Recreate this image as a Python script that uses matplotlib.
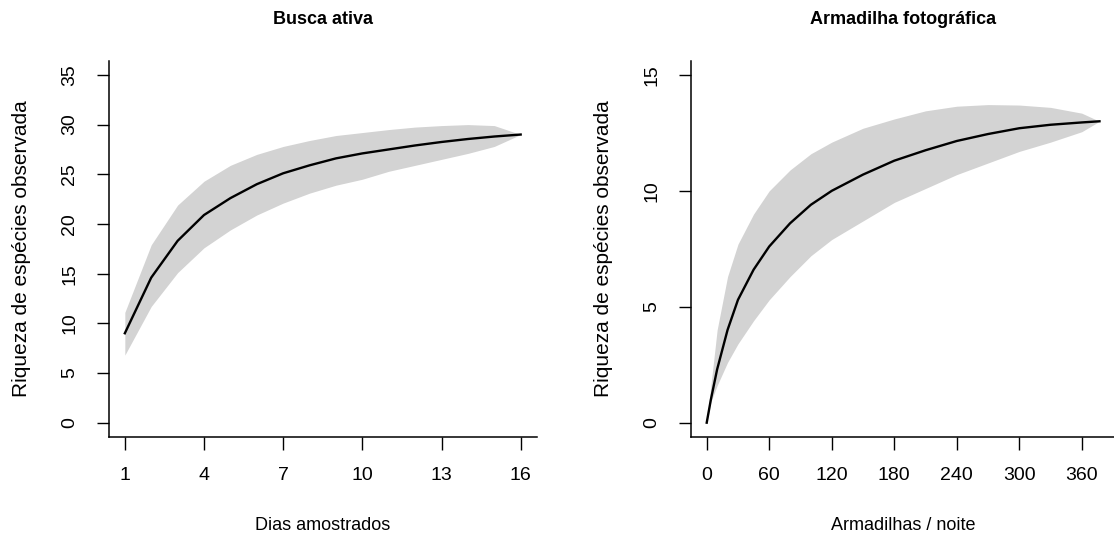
import numpy as np
import matplotlib
matplotlib.use("Agg")
import matplotlib.pyplot as plt

plt.rcParams['font.family'] = ['Liberation Sans', 'DejaVu Sans']

# ---- Busca ativa ----
days = [1, 2, 3, 4, 5, 6, 7, 8, 9, 10, 11, 12, 13, 14, 15, 16]
mean_busca = [9.0, 14.6, 18.3, 20.9, 22.6, 24.0, 25.1, 25.9, 26.6, 27.1, 27.5, 27.9, 28.25, 28.55, 28.8, 29.0]
upper_busca = [11.1, 17.9, 21.9, 24.3, 25.9, 27.0, 27.8, 28.4, 28.9, 29.2, 29.5, 29.75, 29.9, 30.0, 29.9, 29.0]
lower_busca = [6.8, 11.7, 15.1, 17.6, 19.4, 20.9, 22.1, 23.1, 23.9, 24.5, 25.3, 25.9, 26.5, 27.1, 27.8, 29.0]

# ---- Armadilha fotográfica ----
traps = [0, 4, 10, 20, 30, 45, 60, 80, 100, 120, 150, 180, 210, 240, 270, 300, 330, 360, 377]
mean_foto = [0.0, 1.0, 2.3, 4.0, 5.3, 6.6, 7.6, 8.6, 9.4, 10.0, 10.7, 11.3, 11.75, 12.15, 12.45, 12.7, 12.85, 12.95, 13.0]
upper_foto = [0.0, 1.6, 4.0, 6.3, 7.7, 9.0, 10.0, 10.9, 11.6, 12.1, 12.7, 13.1, 13.45, 13.65, 13.72, 13.7, 13.6, 13.35, 13.0]
lower_foto = [0.0, 0.9, 1.6, 2.6, 3.4, 4.4, 5.3, 6.3, 7.2, 7.9, 8.7, 9.5, 10.1, 10.7, 11.2, 11.7, 12.1, 12.55, 13.0]

titles = ["Busca ativa", "Armadilha fotográfica"]
xlabels = ["Dias amostrados", "Armadilhas / noite"]
ylabel = "Riqueza de espécies observada"
xticks_busca = [1, 4, 7, 10, 13, 16]
yticks_busca = [0, 5, 10, 15, 20, 25, 30, 35]
xticks_foto = [0, 60, 120, 180, 240, 300, 360]
yticks_foto = [0, 5, 10, 15]

W, H = 1114, 539
fig = plt.figure(figsize=(W / 100, H / 100), dpi=100)

def px_axes(x0, x1, y0, y1):
    return fig.add_axes([x0 / W, 1 - y1 / H, (x1 - x0) / W, (y1 - y0) / H])

ax1 = px_axes(109, 536.5, 61, 436.6)
ax2 = px_axes(691, 1115.2, 61, 436.6)

FS = 14
for ax, x, m, u, l, xt, yt, ylim_max, title, xl in [
    (ax1, days, mean_busca, upper_busca, lower_busca, xticks_busca, yticks_busca, 35, titles[0], xlabels[0]),
    (ax2, traps, mean_foto, upper_foto, lower_foto, xticks_foto, yticks_foto, 15, titles[1], xlabels[1]),
]:
    ax.fill_between(x, l, u, color='#D3D3D3', linewidth=0)
    ax.plot(x, m, color='black', lw=1.7, solid_joinstyle='round')
    xr = max(x) - min(x)
    ax.set_xlim(min(x) - 0.04 * xr, max(x) + 0.04 * xr)
    ax.set_ylim(-0.04 * ylim_max, ylim_max * 1.04)
    ax.set_xticks(xt)
    ax.set_yticks(yt)
    ax.spines['top'].set_visible(False)
    ax.spines['right'].set_visible(False)
    for s in ['left', 'bottom']:
        ax.spines[s].set_linewidth(1.1)
    ax.tick_params(axis='both', direction='out', length=9, width=1.0, labelsize=FS, pad=13)
    for lab in ax.get_yticklabels():
        lab.set_rotation(90)
        lab.set_va('center')
    ax.set_title(title, fontsize=13, fontweight='bold', pad=27)
    ax.set_xlabel(xl, fontsize=13, labelpad=24)
    ax.set_ylabel(ylabel, fontsize=15, labelpad=22)

fig.savefig("out.png", dpi=100)
